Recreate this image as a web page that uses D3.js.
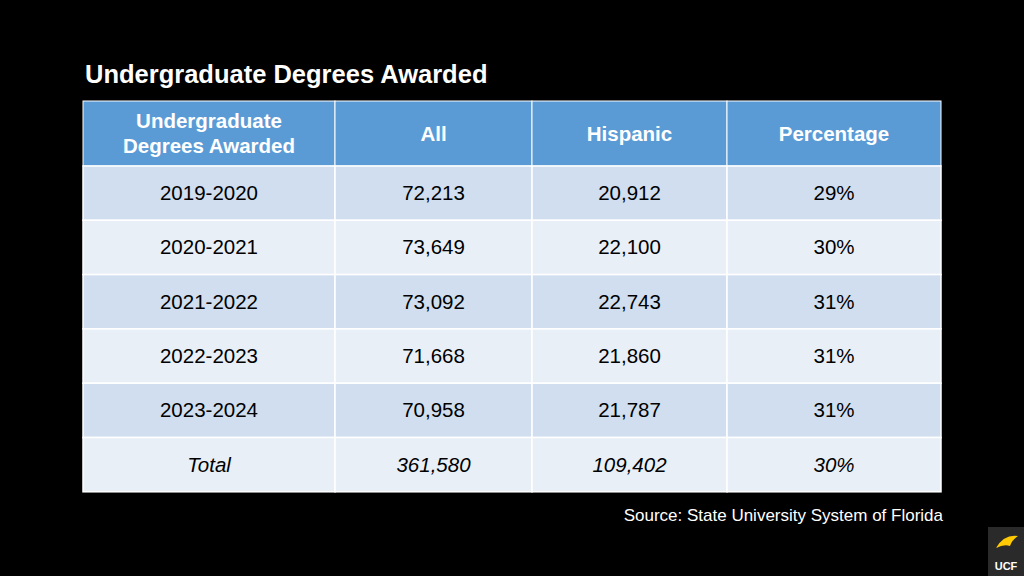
<!DOCTYPE html>
<html><head><meta charset="utf-8">
<script src="https://cdn.jsdelivr.net/npm/d3@7"></script>
<style>body{margin:0;background:#000}</style></head>
<body><svg id="c" width="1024" height="576"></svg>
<script>
const headers = ["Undergraduate\nDegrees Awarded", "All", "Hispanic", "Percentage"];
const years = ["2019-2020","2020-2021","2021-2022","2022-2023","2023-2024","Total"];
const allDeg = ["72,213","73,649","73,092","71,668","70,958","361,580"];
const hispanic = ["20,912","22,100","22,743","21,860","21,787","109,402"];
const pct = ["29%","30%","31%","31%","31%","30%"];

const svg = d3.select("#c");
svg.append("rect").attr("width",1024).attr("height",576).attr("fill","#000");
const font = "Liberation Sans, Arial, sans-serif";
svg.append("text").attr("x",85).attr("y",83).attr("fill","#fff").attr("font-family",font)
  .attr("font-weight","bold").attr("font-size",25.5).text("Undergraduate Degrees Awarded");

const colEdges = [83,335,532,727,941];
const tableTop = 101, headH = 65, rowH = 54.3;
const x = i => colEdges[i], w = i => colEdges[i+1]-colEdges[i];
headers.forEach((h,i)=>{
  svg.append("rect").attr("x",x(i)).attr("y",tableTop).attr("width",w(i)).attr("height",headH)
    .attr("fill","#5B9BD5").attr("stroke","#fff").attr("stroke-width",1);
  const lines = h.split("\n");
  lines.forEach((l,j)=>{
    svg.append("text").attr("x",x(i)+w(i)/2).attr("y",tableTop+headH/2+7+(j-(lines.length-1)/2)*25)
      .attr("text-anchor","middle").attr("fill","#fff").attr("font-family",font)
      .attr("font-weight","bold").attr("font-size",20.5).text(l);
  });
});
const rows = years.map((y,k)=>[y,allDeg[k],hispanic[k],pct[k]]);
rows.forEach((r,k)=>{
  const y0 = tableTop+headH+k*rowH;
  r.forEach((v,i)=>{
    svg.append("rect").attr("x",x(i)).attr("y",y0).attr("width",w(i)).attr("height",rowH)
      .attr("fill",k%2===0?"#D0DEEF":"#E9EFF7").attr("stroke","#fff").attr("stroke-width",1.5);
    svg.append("text").attr("x",x(i)+w(i)/2).attr("y",y0+rowH/2+7)
      .attr("text-anchor","middle").attr("fill","#000").attr("font-family",font)
      .attr("font-size",20.5).attr("font-style",k===5?"italic":"normal").text(v);
  });
});
svg.append("text").attr("x",943).attr("y",521).attr("text-anchor","end").attr("fill","#fff")
  .attr("font-family",font).attr("font-size",17).text("Source: State University System of Florida");
svg.append("rect").attr("x",988).attr("y",527).attr("width",36).attr("height",49).attr("fill","#2a2a2a");
svg.append("path").attr("d","M996,548 q8,-14 22,-12 q-6,4 -8,10 q-6,-2 -14,2z").attr("fill","#FFC904");
svg.append("text").attr("x",1006).attr("y",570).attr("text-anchor","middle").attr("fill","#fff")
  .attr("font-family",font).attr("font-weight","bold").attr("font-size",11).text("UCF");
</script></body></html>
